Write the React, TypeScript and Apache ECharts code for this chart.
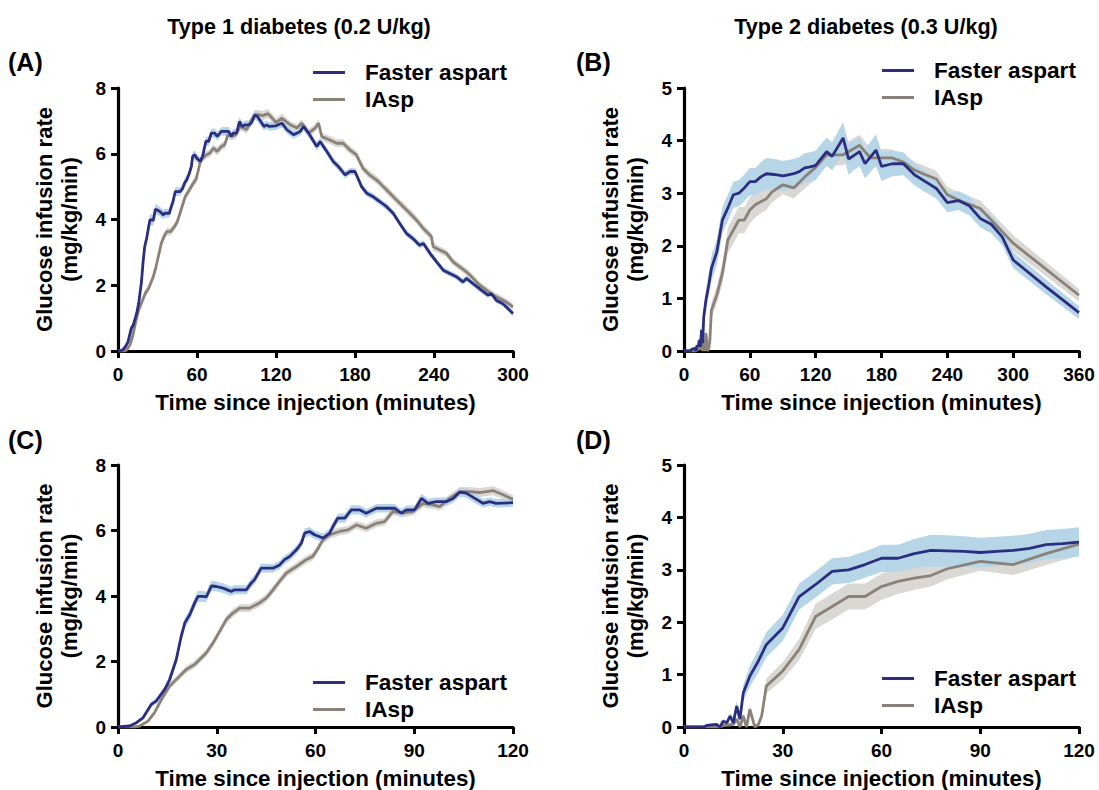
import { useEffect, useRef } from "react";
import * as echarts from "echarts";

// [minutes, mean GIR (mg/kg/min), SEM]
const T1_FASTER: [number, number, number][] = [
  [0, 0, 0], [3.5, 0.03, 0.02], [5.6, 0.13, 0.04], [7.6, 0.28, 0.06], [10.1, 0.69, 0.08], [11.6, 0.79, 0.09],
  [14.2, 1.15, 0.1], [15.7, 1.45, 0.12], [17.7, 2.06, 0.14], [19.2, 2.77, 0.15], [20.3, 3.18, 0.16], [21.8, 3.43, 0.16],
  [23.3, 3.79, 0.17], [24.3, 3.99, 0.17], [25.8, 3.99, 0.17], [26.8, 3.97, 0.16], [28.4, 4.31, 0.16], [29.9, 4.29, 0.15],
  [31.9, 4.24, 0.15], [34.4, 4.14, 0.14], [35.4, 4.19, 0.14], [39, 4.19, 0.14], [40.5, 4.4, 0.14], [41.5, 4.5, 0.14],
  [43.5, 4.85, 0.14], [47.1, 4.85, 0.13], [49.1, 4.95, 0.13], [50.6, 5.11, 0.13], [52.2, 5.21, 0.13], [54.2, 5.41, 0.13],
  [55.7, 5.61, 0.14], [56.7, 5.92, 0.14], [58.2, 5.97, 0.14], [59.7, 5.87, 0.13], [62.3, 5.77, 0.13], [64.3, 5.92, 0.13],
  [65.3, 6.12, 0.14], [66.8, 6.38, 0.14], [68.9, 6.38, 0.14], [70.9, 6.63, 0.14], [73.4, 6.63, 0.14], [75.4, 6.53, 0.13],
  [78.5, 6.68, 0.13], [84, 6.68, 0.13], [86.1, 6.53, 0.13], [87.6, 6.63, 0.13], [90.1, 6.63, 0.13], [92.2, 6.98, 0.14],
  [94.2, 6.83, 0.14], [96.7, 6.88, 0.13], [99.7, 6.88, 0.13], [101.8, 6.98, 0.13], [103.8, 7.17, 0.14], [105.8, 7.14, 0.14],
  [108.4, 6.98, 0.14], [110.9, 6.83, 0.13], [112.9, 6.88, 0.13], [114.9, 6.83, 0.13], [120, 6.85, 0.13], [124.5, 6.93, 0.13],
  [128.3, 6.73, 0.12], [133.3, 6.58, 0.12], [138.4, 6.68, 0.12], [140.9, 6.83, 0.12], [144.7, 6.63, 0.12], [151, 6.22, 0.12],
  [153.5, 6.37, 0.12], [158.6, 6.07, 0.11], [163.6, 5.76, 0.11], [167.4, 5.61, 0.11], [172.5, 5.36, 0.11], [176.3, 5.46, 0.11],
  [180, 5.46, 0.11], [185, 5.0, 0.1], [188.9, 4.8, 0.1], [193.9, 4.69, 0.1], [199, 4.54, 0.1], [204, 4.39, 0.1],
  [209, 4.19, 0.1], [214, 3.88, 0.1], [219, 3.58, 0.1], [224, 3.42, 0.1], [229, 3.22, 0.1], [232, 3.27, 0.1],
  [237, 2.97, 0.1], [242, 2.71, 0.09], [247, 2.46, 0.09], [252, 2.36, 0.09], [257, 2.26, 0.09], [262, 2.1, 0.09],
  [264.6, 2.21, 0.09], [269.7, 2.05, 0.09], [276, 1.85, 0.09], [281, 1.7, 0.09], [283.6, 1.75, 0.1], [287.4, 1.54, 0.09],
  [292.4, 1.44, 0.09], [300, 1.14, 0.08],
];

const T1_IASP: [number, number, number][] = [
  [0, 0, 0], [5, 0, 0], [6.6, 0.03, 0.02], [9.1, 0.18, 0.04], [11.1, 0.44, 0.06], [13.2, 0.84, 0.08], [15.7, 1.25, 0.1],
  [18.2, 1.5, 0.1], [20.8, 1.76, 0.11], [23.3, 1.91, 0.11], [24.8, 2.06, 0.11], [26.8, 2.26, 0.11], [28.9, 2.57, 0.12],
  [30.9, 2.92, 0.12], [32.9, 3.28, 0.12], [34.9, 3.48, 0.12], [37, 3.63, 0.12], [40, 3.63, 0.12], [43, 3.79, 0.12],
  [45.1, 3.94, 0.12], [47.1, 4.19, 0.12], [49.1, 4.45, 0.12], [51.1, 4.7, 0.12], [54.2, 4.9, 0.12], [57.2, 5.11, 0.12],
  [59.2, 5.21, 0.12], [60.8, 5.46, 0.12], [62.3, 5.72, 0.12], [64.3, 5.87, 0.12], [67.3, 5.97, 0.12], [69.9, 6.02, 0.12],
  [72.4, 6.17, 0.12], [75.4, 6.07, 0.12], [78.5, 6.22, 0.12], [81, 6.27, 0.12], [83.5, 6.58, 0.12], [86.6, 6.53, 0.12],
  [89.6, 6.58, 0.12], [92.7, 6.83, 0.12], [95.7, 6.78, 0.12], [97.7, 6.73, 0.12], [100.8, 6.98, 0.13], [103.8, 7.19, 0.14],
  [106.8, 7.19, 0.14], [109.9, 7.16, 0.14], [113.9, 7.22, 0.14], [117, 7.09, 0.13], [120, 6.95, 0.13], [124.5, 7.08, 0.13],
  [130.8, 6.88, 0.12], [135.9, 6.78, 0.12], [139.6, 6.93, 0.12], [144.7, 6.63, 0.12], [149.7, 6.78, 0.12], [152.3, 6.93, 0.12],
  [154.8, 6.52, 0.12], [161, 6.42, 0.12], [166, 6.32, 0.12], [171, 6.32, 0.12], [176, 6.12, 0.12], [181, 5.97, 0.12],
  [186, 5.56, 0.12], [191, 5.36, 0.12], [196.5, 5.2, 0.12], [201.5, 5.0, 0.12], [206.5, 4.8, 0.12], [211.6, 4.59, 0.12],
  [216.7, 4.39, 0.12], [221.7, 4.19, 0.12], [226.8, 3.98, 0.12], [231.8, 3.73, 0.12], [235.6, 3.58, 0.12], [238, 3.48, 0.12],
  [239.4, 3.17, 0.12], [244.4, 3.07, 0.11], [249.5, 2.97, 0.11], [254.5, 2.71, 0.11], [259.6, 2.56, 0.11], [264.6, 2.41, 0.11],
  [269.7, 2.21, 0.11], [274.7, 2.0, 0.11], [279.8, 1.85, 0.11], [284.8, 1.7, 0.11], [289.9, 1.6, 0.1], [294.9, 1.49, 0.1],
  [300, 1.34, 0.1],
];

const T2_FASTER: [number, number, number][] = [
  [0, 0, 0], [6, 0, 0], [6.9, 0.03, 0.02], [9.9, 0.05, 0.03], [10.9, 0, 0.02], [11.9, 0.11, 0.04], [13, 0.08, 0.04],
  [14, 0.21, 0.06], [15, 0.08, 0.05], [16, 0.4, 0.1], [17, 0.15, 0.08], [18, 0.65, 0.15], [20, 0.97, 0.2],
  [22.6, 1.26, 0.22], [25, 1.57, 0.24], [30, 1.89, 0.25], [35, 2.49, 0.25], [40, 2.72, 0.25], [45, 2.97, 0.25],
  [50, 3.0, 0.25], [55, 3.1, 0.25], [60, 3.22, 0.26], [65, 3.22, 0.26], [70, 3.31, 0.28], [75, 3.37, 0.3],
  [80, 3.36, 0.3], [85, 3.35, 0.29], [90, 3.33, 0.28], [95, 3.35, 0.28], [100, 3.37, 0.28], [105, 3.41, 0.28],
  [110, 3.48, 0.28], [115, 3.5, 0.28], [120, 3.53, 0.28], [130, 3.79, 0.27], [135, 3.7, 0.27], [145, 4.05, 0.3],
  [150, 3.65, 0.3], [155, 3.72, 0.28], [160, 3.79, 0.28], [165, 3.56, 0.28], [175, 3.82, 0.3], [180, 3.51, 0.28],
  [190, 3.56, 0.24], [200, 3.56, 0.22], [210, 3.35, 0.2], [220, 3.22, 0.2], [230, 3.09, 0.19], [240, 2.82, 0.18],
  [250, 2.86, 0.18], [260, 2.76, 0.18], [270, 2.52, 0.17], [280, 2.41, 0.17], [290, 2.17, 0.16], [300, 1.73, 0.15],
  [330, 1.22, 0.14], [360, 0.73, 0.12],
];

const T2_IASP: [number, number, number][] = [
  [0, 0, 0], [11, 0, 0], [11.9, 0.03, 0.02], [15, 0.05, 0.03], [16, 0.15, 0.05], [17, 0, 0.03], [18, 0.21, 0.06],
  [19, 0, 0.04], [20, 0.34, 0.08], [21.5, 0, 0.04], [22.6, 0.05, 0.04], [23.6, 0.21, 0.08], [25, 0.78, 0.14],
  [30, 1.07, 0.17], [35, 1.48, 0.2], [40, 2.11, 0.24], [45, 2.3, 0.25], [50, 2.49, 0.25], [55, 2.49, 0.25],
  [60, 2.68, 0.25], [65, 2.78, 0.24], [70, 2.84, 0.22], [75, 2.89, 0.21], [80, 3.02, 0.2], [90, 3.16, 0.18],
  [100, 3.1, 0.2], [110, 3.31, 0.22], [120, 3.49, 0.22], [130, 3.73, 0.2], [145, 3.73, 0.2], [160, 3.91, 0.2],
  [170, 3.67, 0.18], [180, 3.67, 0.17], [190, 3.67, 0.16], [200, 3.59, 0.16], [210, 3.44, 0.16], [220, 3.35, 0.16],
  [230, 3.27, 0.15], [240, 2.97, 0.15], [250, 2.87, 0.15], [270, 2.71, 0.15], [280, 2.49, 0.15], [290, 2.27, 0.15],
  [300, 2.05, 0.15], [360, 1.06, 0.12],
];

const SERIES_NAMES = ["Faster aspart", "IAsp"];
const COLUMN_TITLES = ["Type 1 diabetes (0.2 U/kg)", "Type 2 diabetes (0.3 U/kg)"];
const PANEL_LABELS = ["(A)", "(B)", "(C)", "(D)"];
const X_MAX = [300, 360, 120, 120];
const X_INTERVAL = [60, 60, 30, 30];
const Y_MAX = [8, 5, 8, 5];
const Y_INTERVAL = [2, 1, 2, 1];
const X_NAME = "Time since injection (minutes)";
const Y_NAME = "Glucose infusion rate\n(mg/kg/min)";

const FONT = "'Liberation Sans', Arial, Helvetica, sans-serif";
const NAVY = "#2B2D80";
const GREY = "#8A8178";
const BLUE_BAND = "#B6D6E7";
const GREY_BAND = "#DAD8D4";

const GRIDS = [
  { left: 118, top: 88, width: 395, height: 263 },
  { left: 684, top: 88, width: 395, height: 263 },
  { left: 118, top: 465, width: 395, height: 263 },
  { left: 684, top: 465, width: 395, height: 263 },
];
const LEGEND_POS = [
  { left: 313, top: 61 },
  { left: 882, top: 59 },
  { left: 313, top: 671 },
  { left: 882, top: 667 },
];

function bandSeries(data: [number, number, number][], idx: number, color: string, z: number) {
  const rows = data.map((d) => [d[0], Math.max(0, d[1] - d[2]), d[1] + d[2]]);
  return {
    type: "custom",
    xAxisIndex: idx,
    yAxisIndex: idx,
    silent: true,
    z,
    clip: true,
    data: rows,
    encode: { x: 0, y: [1, 2] },
    renderItem: (params: any, api: any) => {
      if (params.dataIndex !== 0) return null;
      const upper = rows.map((r) => api.coord([r[0], r[2]]));
      const lower = rows.map((r) => api.coord([r[0], r[1]])).reverse();
      return {
        type: "polygon",
        shape: { points: upper.concat(lower) },
        style: { fill: color, stroke: null },
      };
    },
  };
}

function lineSeries(name: string, data: [number, number, number][], idx: number, color: string, z: number) {
  return {
    type: "line",
    name,
    xAxisIndex: idx,
    yAxisIndex: idx,
    data: data.map((d) => [d[0], d[1]]),
    showSymbol: false,
    symbol: "none",
    color,
    lineStyle: { color, width: 2.8 },
    z,
  };
}

export default function App() {
  const ref = useRef<HTMLDivElement>(null);
  useEffect(() => {
    document.body.style.margin = "0";
    const chart = echarts.init(ref.current!, null, { renderer: "svg" });
    const panelData = [
      [T1_FASTER, T1_IASP],
      [T2_FASTER, T2_IASP],
      [T1_FASTER.filter((d) => d[0] <= 120), T1_IASP.filter((d) => d[0] <= 120)],
      [T2_FASTER.filter((d) => d[0] <= 120), T2_IASP.filter((d) => d[0] <= 120)],
    ];
    const axisLine = { show: true, onZero: false, lineStyle: { color: "#000", width: 3.2 } };
    const axisTick = { show: true, length: 7, lineStyle: { color: "#000", width: 3 } };
    const labelStyle = { color: "#000", fontFamily: FONT, fontWeight: "bold", fontSize: 19 };
    const xAxis = GRIDS.map((_, i) => ({
      type: "value",
      gridIndex: i,
      min: 0,
      max: X_MAX[i],
      interval: X_INTERVAL[i],
      axisLine,
      axisTick,
      splitLine: { show: false },
      axisLabel: { ...labelStyle, margin: 14 },
      name: X_NAME,
      nameLocation: "middle",
      nameGap: 40,
      nameTextStyle: { color: "#000", fontFamily: FONT, fontWeight: "bold", fontSize: 22.4 },
    }));
    const yAxis = GRIDS.map((_, i) => ({
      type: "value",
      gridIndex: i,
      min: 0,
      max: Y_MAX[i],
      interval: Y_INTERVAL[i],
      axisLine,
      axisTick,
      splitLine: { show: false },
      axisLabel: { ...labelStyle, margin: 12 },
      name: Y_NAME,
      nameLocation: "middle",
      nameRotate: 90,
      nameGap: 36,
      nameTextStyle: { color: "#000", fontFamily: FONT, fontWeight: "bold", fontSize: 22, lineHeight: 25 },
    }));
    const series: any[] = [];
    panelData.forEach(([fa, ia], i) => {
      series.push(bandSeries(ia, i, GREY_BAND, 1));
      series.push(bandSeries(fa, i, BLUE_BAND, 2));
      series.push(lineSeries(SERIES_NAMES[1], ia, i, GREY, 3));
      series.push(lineSeries(SERIES_NAMES[0], fa, i, NAVY, 4));
    });
    const legend = LEGEND_POS.map((p) => ({
      left: p.left,
      top: p.top,
      padding: 0,
      orient: "vertical",
      data: SERIES_NAMES,
      icon: "rect",
      itemWidth: 32,
      itemHeight: 3,
      itemGap: 4,
      selectedMode: false,
      textStyle: { color: "#000", fontFamily: FONT, fontWeight: "bold", fontSize: 22.6, lineHeight: 23, padding: [0, 0, 0, 15] },
    }));
    const titleFont = `bold 21.6px ${FONT}`;
    const panelFont = `bold 25px ${FONT}`;
    const graphic: any[] = [
      { type: "text", x: 299, y: 26, style: { text: COLUMN_TITLES[0], fill: "#000", font: titleFont, textAlign: "center", textVerticalAlign: "middle" } },
      { type: "text", x: 866, y: 26, style: { text: COLUMN_TITLES[1], fill: "#000", font: titleFont, textAlign: "center", textVerticalAlign: "middle" } },
      { type: "text", x: 8, y: 62, style: { text: PANEL_LABELS[0], fill: "#000", font: panelFont, textVerticalAlign: "middle" } },
      { type: "text", x: 576, y: 62, style: { text: PANEL_LABELS[1], fill: "#000", font: panelFont, textVerticalAlign: "middle" } },
      { type: "text", x: 8, y: 440, style: { text: PANEL_LABELS[2], fill: "#000", font: panelFont, textVerticalAlign: "middle" } },
      { type: "text", x: 576, y: 440, style: { text: PANEL_LABELS[3], fill: "#000", font: panelFont, textVerticalAlign: "middle" } },
    ];
    chart.setOption({
      animation: false,
      backgroundColor: "#fff",
      grid: GRIDS.map((g) => ({ ...g, containLabel: false })),
      xAxis,
      yAxis,
      legend,
      series,
      graphic,
    });
    return () => chart.dispose();
  }, []);
  return <div ref={ref} style={{ width: 1099, height: 790 }} />;
}
